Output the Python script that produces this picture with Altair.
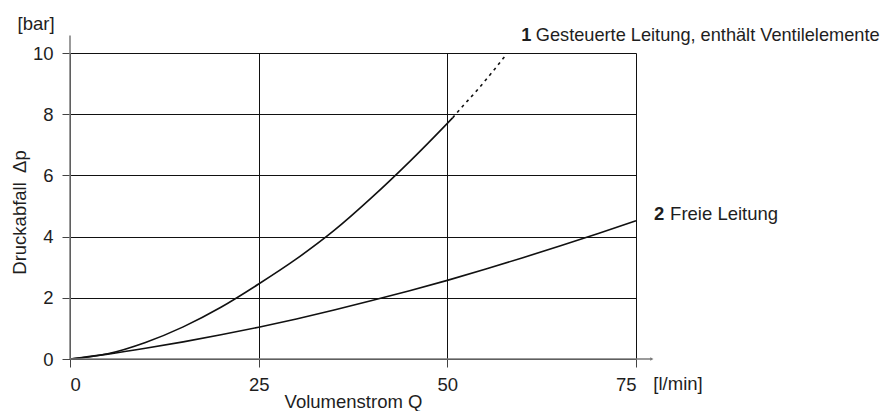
import altair as alt
import pandas as pd

# ---- data ----
c1_q = [0, 5, 10, 15, 20, 25, 30, 35, 40, 45, 50, 50.7]
c1_p = [0, 0.17, 0.54, 1.05, 1.69, 2.45, 3.27, 4.2, 5.28, 6.45, 7.7, 7.88]
c1d_q = [50.7, 52, 54, 56, 57.8]
c1d_p = [7.88, 8.25, 8.8, 9.39, 9.95]
c2_q = [0, 5, 10, 15, 20, 25, 30, 35, 40, 45, 50, 55, 60, 65, 70, 75]
c2_p = [0, 0.16, 0.35, 0.56, 0.79, 1.04, 1.31, 1.6, 1.91, 2.23, 2.57, 2.93, 3.31, 3.7, 4.1, 4.52]
x_ticks = [0, 25, 50, 75]
y_ticks = [0, 2, 4, 6, 8, 10]

FONT = "Liberation Sans"
FS = 18.5
TXT = "#1e1e1e"
AX = "#7a7a7a"

x_scale = alt.Scale(domain=[0, 75], nice=False, zero=False)
y_scale = alt.Scale(domain=[0, 10], nice=False)

x_axis = alt.Axis(values=x_ticks, grid=True, gridColor="#111111", gridWidth=1,
                  domain=False, ticks=True, tickSize=8, tickColor="#444444", tickWidth=1,
                  labelFont=FONT, labelFontSize=FS, labelColor=TXT, labelPadding=8,
                  title="Volumenstrom Q", titleFont=FONT, titleFontSize=FS,
                  titleFontWeight="normal", titleColor=TXT, titleBaseline="alphabetic",
                  titleY=48.5, titleX=283, format="d")
y_axis = alt.Axis(values=y_ticks, grid=True, gridColor="#111111", gridWidth=1,
                  domain=False, ticks=True, tickSize=8, tickColor="#444444", tickWidth=1,
                  labelFont=FONT, labelFontSize=FS, labelColor=TXT, labelPadding=9,
                  title="Druckabfall\u2002\u0394p", titleFont=FONT, titleFontSize=FS,
                  titleFontWeight="normal", titleColor=TXT, titleX=-41, titleY=159,
                  format="d")

def X(f="q"):
    return alt.X(f, type="quantitative", scale=x_scale, axis=x_axis)

def Y(f="p"):
    return alt.Y(f, type="quantitative", scale=y_scale, axis=y_axis)

solid = pd.concat([
    pd.DataFrame({"q": c1_q, "p": c1_p, "s": "1"}),
    pd.DataFrame({"q": c2_q, "p": c2_p, "s": "2"}),
])
dashed = pd.DataFrame({"q": c1d_q, "p": c1d_p})

lines = alt.Chart(solid).mark_line(color="#111111", strokeWidth=1.6, interpolate="monotone").encode(
    x=X(), y=Y(), detail="s:N")
dash = alt.Chart(dashed).mark_line(color="#111111", strokeWidth=1.6, strokeDash=[3, 4],
                                   interpolate="monotone").encode(x=X(), y=Y())

# axis lines extending beyond the plot
X_END = 77.1
Y_END = 10.57
axes_df = pd.DataFrame({"q": [0, 0], "q2": [X_END, 0], "p": [0, 0], "p2": [0, Y_END]})
axes = alt.Chart(axes_df).mark_rule(color=AX, strokeWidth=1.5).encode(
    x=X(), x2="q2", y=Y(), y2="p2")
arrow = alt.Chart(pd.DataFrame({"q": [X_END], "p": [0]})).mark_point(
    shape="triangle-right", filled=True, size=14, color=AX, opacity=1).encode(x=X(), y=Y())

def txt(q, p, t, align="left", bold=False, dx=0, baseline="alphabetic", fs=FS):
    return alt.Chart(pd.DataFrame({"q": [q], "p": [p], "t": [t]})).mark_text(
        font=FONT, fontSize=fs, color=TXT, align=align, baseline=baseline, dx=dx,
        fontWeight="bold" if bold else "normal").encode(x=X(), y=Y(), text="t:N")

texts = [
    txt(-4.5, 10.95, "[bar]", align="center", baseline="middle"),
    txt(77.3, -1.01, "[l/min]"),
    txt(59.8, 10.39, "1", bold=True, fs=18.2),
    txt(59.8, 10.39, "Gesteuerte Leitung, enth\u00e4lt Ventilelemente", dx=14.5, fs=18.2),
    txt(77.4, 4.53, "2", bold=True),
    txt(77.4, 4.53, "Freie Leitung", dx=16),
]

chart = alt.layer(lines, dash, axes, arrow, *texts).properties(
    width=566, height=306,
    autosize=alt.AutoSizeParams(type="none"),
    padding={"left": 62, "top": 45, "right": 247, "bottom": 52},
).configure_view(stroke=None).configure(background="white")

chart.save("out.html", embed_options={"renderer": "svg", "actions": False})
